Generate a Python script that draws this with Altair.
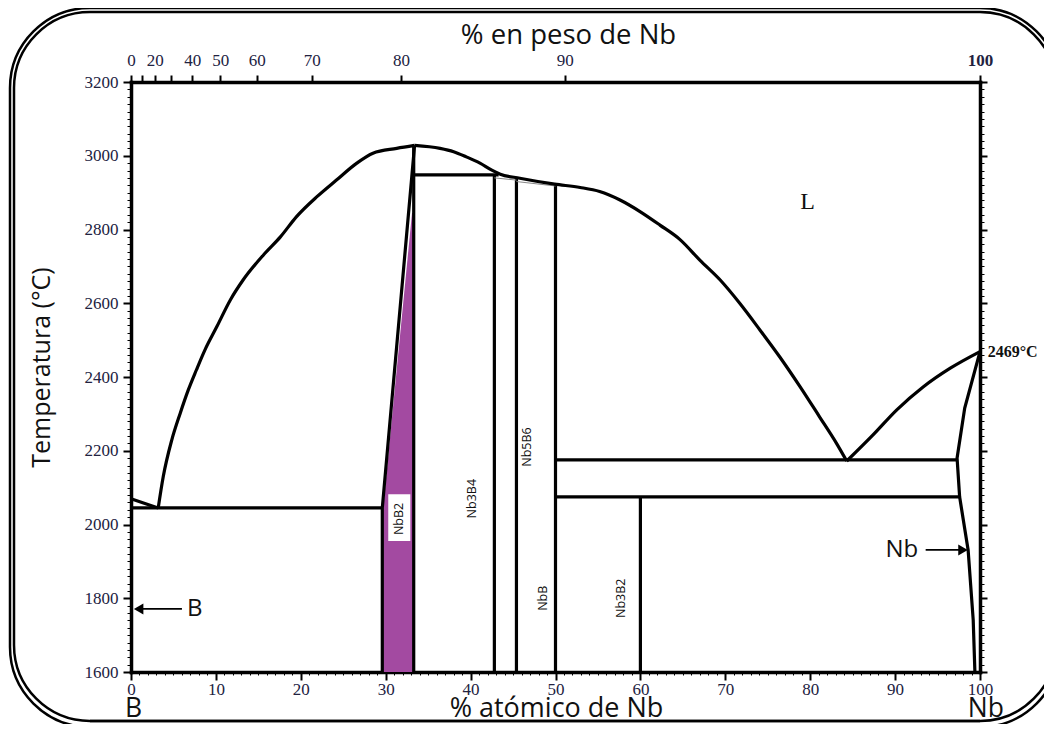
import altair as alt
import pandas as pd

# ---------------- values ----------------
# straight phase boundaries  (at.% Nb , temperature °C)
b_melt_x = [0.0, 3.2]
b_melt_t = [2070, 2045]
eut_b_x = [0.0, 29.6]
eut_b_t = [2045, 2045]
nbb2_left_x = [29.6, 29.6, 33.4]
nbb2_left_t = [1600, 2045, 3028]
nbb2_right_x = [33.3, 33.3]
nbb2_right_t = [1600, 3028]
perit_x = [33.3, 43.3]
perit_t = [2948, 2948]
nb3b4_x = [42.8, 42.8]
nb3b4_t = [1600, 2948]
nb5b6_x = [45.4, 45.4]
nb5b6_t = [1600, 2940]
nbb_x = [50.0, 50.0]
nbb_t = [1600, 2923]
eut_nb_x = [50.0, 97.3]
eut_nb_t = [2175, 2175]
iso2075_x = [50.0, 97.6]
iso2075_t = [2075, 2075]
nb3b2_x = [60.0, 60.0]
nb3b2_t = [1600, 2075]
nb_solidus_x = [100.0, 98.2, 97.3, 97.6, 98.6, 99.2, 99.4]
nb_solidus_t = [2469, 2316, 2180, 2075, 1931, 1741, 1600]

# thin grey lines under the liquidus
thin1_x = [42.8, 45.4]
thin1_t = [2940, 2934]
thin2_x = [45.4, 50.0]
thin2_t = [2930, 2918]

# liquidus curves
liq_left_x = [3.2, 3.8, 4.8, 5.8, 6.75, 7.7, 8.7, 10.1, 11.7, 13.2, 15.6, 17.6, 19.5,
              21.9, 24.2, 26.6, 28.5, 31.3, 33.4]
liq_left_t = [2044, 2130, 2229, 2302, 2365, 2419, 2473, 2536, 2609, 2663, 2731, 2780, 2835,
              2889, 2934, 2980, 3007, 3020, 3028]
liq_mid_x = [33.4, 36.4, 38.0, 39.5, 41.1, 42.5, 43.5, 45.8, 49.9, 52.9, 55.2, 57.6, 60.0,
             62.3, 64.7, 67.0, 69.4, 71.7, 74.1, 76.4, 78.8, 81.1, 83.1, 84.3]
liq_mid_t = [3028, 3020, 3011, 2997, 2980, 2961, 2950, 2939, 2923, 2914, 2903, 2880, 2848,
             2812, 2772, 2717, 2663, 2600, 2527, 2455, 2374, 2292, 2220, 2172]
liq_right_x = [84.3, 87.4, 90.2, 93.3, 96.5, 100.0]
liq_right_t = [2172, 2243, 2311, 2373, 2424, 2469]

# NbB2 single-phase field (purple)
nbb2_fill_t = [1600, 2045, 2845]
nbb2_fill_xl = [29.7, 29.7, 33.1]
nbb2_fill_xr = [33.3, 33.3, 33.3]

# phase labels (vertical)
phase_names = ["NbB2", "Nb3B4", "Nb5B6", "NbB", "Nb3B2"]
phase_x = [31.6, 40.2, 46.7, 48.5, 57.7]
phase_t = [2015, 2070, 2210, 1800, 1800]
nbb2_box_x = [30.3, 32.9]
nbb2_box_t = [1955, 2082]

# arrows  "B" and "Nb"
arrow_names = ["B", "Nb"]
arrow_text_x = [6.6, 90.8]
arrow_t = [1771, 1931]
arrow_from = [6.0, 93.6]
arrow_to = [0.9, 98.0]
arrow_head = ["triangle-left", "triangle-right"]

# top axis: weight % Nb ticks, placed at their at.% positions
top_pos = [0, 1.3, 2.8, 4.7, 7.2, 10.5, 14.8, 21.3, 31.8, 51.1, 100]
top_lab = ["0", "", "20", "", "40", "50", "60", "70", "80", "90", "100"]

# ---------------- frames ----------------
def seg_frame(segs):
    rows = []
    for name, xs_, ts_ in segs:
        for i, (a, b) in enumerate(zip(xs_, ts_)):
            rows.append({"seg": name, "i": i, "x": a, "t": b})
    return pd.DataFrame(rows)

straight_df = seg_frame([
    ("bmelt", b_melt_x, b_melt_t), ("eutb", eut_b_x, eut_b_t),
    ("nbb2l", nbb2_left_x, nbb2_left_t), ("nbb2r", nbb2_right_x, nbb2_right_t),
    ("perit", perit_x, perit_t), ("nb3b4", nb3b4_x, nb3b4_t),
    ("nb5b6", nb5b6_x, nb5b6_t), ("nbb", nbb_x, nbb_t),
    ("eutnb", eut_nb_x, eut_nb_t), ("iso", iso2075_x, iso2075_t),
    ("nb3b2", nb3b2_x, nb3b2_t), ("nbsol", nb_solidus_x, nb_solidus_t),
])
thin_df = seg_frame([("t1", thin1_x, thin1_t), ("t2", thin2_x, thin2_t)])
curve_df = seg_frame([
    ("liqL", liq_left_x, liq_left_t), ("liqM", liq_mid_x, liq_mid_t),
    ("liqR", liq_right_x, liq_right_t),
])
fill_df = pd.DataFrame({"t": nbb2_fill_t, "xl": nbb2_fill_xl, "xr": nbb2_fill_xr})
phase_df = pd.DataFrame({"name": phase_names, "x": phase_x, "t": phase_t})
box_df = pd.DataFrame({"x": [nbb2_box_x[0]], "x2": [nbb2_box_x[1]],
                       "t": [nbb2_box_t[0]], "t2": [nbb2_box_t[1]]})
arrow_df = pd.DataFrame({"name": arrow_names, "tx": arrow_text_x, "t": arrow_t,
                         "x1": arrow_from, "x2": arrow_to, "shape": arrow_head})
l_df = pd.DataFrame({"name": ["L"], "x": [79.7], "t": [2875]})
mp_df = pd.DataFrame({"name": ["2469°C"], "x": [100.9], "t": [2469]})
edge_df = pd.DataFrame({"name": ["B", "Nb"], "x": [0.3, 100.7]})
one = pd.DataFrame({"a": [0]})

# ---------------- scales & axes ----------------
XS = alt.Scale(domain=[0, 100], nice=False, zero=False)
YS = alt.Scale(domain=[1600, 3200], nice=False, zero=False)
SERIF = "Liberation Serif"
SANS = "Open Sans"
LABC = "#22223f"

top_expr = "''"
for p, l in reversed(list(zip(top_pos, top_lab))):
    top_expr = f"datum.value === {p} ? '{l}' : ({top_expr})"

common = dict(domainColor="black", domainWidth=3.5, domainCap="square", tickColor="black",
              labelFont=SERIF, labelFontSize=17, labelColor=LABC, labelOverlap=False,
              labelFlush=False, grid=False, titleColor="#111111", titleFont=SANS,
              titleFontWeight="normal")

x_bottom = alt.Axis(
    orient="bottom", values=list(range(0, 101)),
    labelExpr="datum.value % 10 === 0 ? datum.label : ''",
    tickSize={"condition": {"test": "datum.value % 10 === 0", "value": 8}, "value": 3},
    tickWidth={"condition": {"test": "datum.value % 10 === 0", "value": 2}, "value": 1},
    labelPadding=1, title="% atómico de Nb", titleFontSize=27,
    titleX=425, titleY=44.5, titleBaseline="alphabetic", titleAlign="center", **common)
y_left = alt.Axis(
    orient="left", values=list(range(1600, 3201, 20)),
    labelExpr="datum.value % 200 === 0 ? datum.label : ''", format="d",
    tickSize={"condition": {"test": "datum.value % 200 === 0", "value": 8}, "value": 4},
    tickWidth={"condition": {"test": "datum.value % 200 === 0", "value": 2}, "value": 1},
    labelPadding=5, title="Temperatura (°C)", titleFontSize=25, titleAngle=270,
    titleX=-90, titleY=285, titleBaseline="middle", titleAlign="center", **common)
x_top = alt.Axis(
    orient="top", values=top_pos, labelExpr=top_expr, tickSize=7, tickWidth=2,
    labelPadding=6, labelFontWeight={"condition": {"test": "datum.value === 100", "value": "bold"},
                                     "value": "normal"},
    title="% en peso de Nb", titleFontSize=27.5, titleX=437, titleY=-39,
    titleBaseline="alphabetic", titleAlign="center", **common)
y_right = alt.Axis(
    orient="right", values=list(range(1600, 3201, 20)), labels=False,
    tickSize={"condition": {"test": "datum.value % 200 === 0", "value": 7}, "value": 4},
    tickWidth={"condition": {"test": "datum.value % 200 === 0", "value": 2}, "value": 1},
    title=None, **{k: v for k, v in common.items() if not k.startswith("title")})

# ---------------- layers ----------------
border_outer = alt.Chart(one).mark_rect(filled=False, color="black", strokeWidth=2.5,
                                        cornerRadius=80).encode(
    x=alt.value(-121), x2=alt.value(929), y=alt.value(-74), y2=alt.value(645))
border_inner = alt.Chart(one).mark_rect(filled=False, color="black", strokeWidth=2.5,
                                        cornerRadius=76).encode(
    x=alt.value(-117), x2=alt.value(925), y=alt.value(-70), y2=alt.value(639))
border_bottom = alt.Chart(one).mark_rule(color="black", strokeWidth=2.5).encode(
    x=alt.value(-41), x2=alt.value(849), y=alt.value(639))

purple = alt.Chart(fill_df).mark_area(orient="horizontal", color="#A34AA1").encode(
    y=alt.Y("t:Q", scale=YS, axis=None),
    x=alt.X("xl:Q", scale=XS, axis=None), x2="xr:Q")

box = alt.Chart(box_df).mark_rect(color="white").encode(
    x=alt.X("x:Q", scale=XS, axis=None), x2="x2:Q",
    y=alt.Y("t:Q", scale=YS, axis=None), y2="t2:Q")

straight = alt.Chart(straight_df).mark_line(color="black", strokeWidth=3.2).encode(
    x=alt.X("x:Q", scale=XS, axis=x_bottom),
    y=alt.Y("t:Q", scale=YS, axis=y_left),
    detail="seg:N", order="i:Q")

thin = alt.Chart(thin_df).mark_line(color="#888888", strokeWidth=1).encode(
    x=alt.X("x:Q", scale=XS, axis=None), y=alt.Y("t:Q", scale=YS, axis=None),
    detail="seg:N", order="i:Q")

curves = alt.Chart(curve_df).mark_line(color="black", strokeWidth=3.2,
                                       interpolate="monotone").encode(
    x=alt.X("x:Q", scale=XS, axis=x_top),
    y=alt.Y("t:Q", scale=YS, axis=y_right),
    detail="seg:N", order="i:Q")

phases = alt.Chart(phase_df).mark_text(angle=270, font=SANS, fontSize=12.5,
                                       color="#111111", baseline="middle",
                                       align="center").encode(
    x=alt.X("x:Q", scale=XS, axis=None), y=alt.Y("t:Q", scale=YS, axis=None),
    text="name:N")

l_text = alt.Chart(l_df).mark_text(font=SERIF, fontSize=24, color="#111111",
                                   baseline="middle", align="center").encode(
    x=alt.X("x:Q", scale=XS, axis=None), y=alt.Y("t:Q", scale=YS, axis=None),
    text="name:N")

mp_text = alt.Chart(mp_df).mark_text(font=SERIF, fontSize=16, fontWeight="bold",
                                     color="#111111", baseline="middle",
                                     align="left").encode(
    x=alt.X("x:Q", scale=XS, axis=None), y=alt.Y("t:Q", scale=YS, axis=None),
    text="name:N")

shafts = alt.Chart(arrow_df).mark_rule(color="black", strokeWidth=1.8).encode(
    x=alt.X("x1:Q", scale=XS, axis=None), x2="x2:Q",
    y=alt.Y("t:Q", scale=YS, axis=None))
heads = alt.Chart(arrow_df).mark_point(filled=True, color="black", size=120,
                                       opacity=1).encode(
    x=alt.X("x2:Q", scale=XS, axis=None), y=alt.Y("t:Q", scale=YS, axis=None),
    shape=alt.Shape("shape:N", scale=None, legend=None))
arrow_text_b = alt.Chart(arrow_df).transform_filter("datum.name === 'B'").mark_text(
    font=SANS, fontSize=24, color="#111111", baseline="middle", align="left").encode(
    x=alt.X("tx:Q", scale=XS, axis=None), y=alt.Y("t:Q", scale=YS, axis=None),
    text="name:N")
arrow_text_nb = alt.Chart(arrow_df).transform_filter("datum.name === 'Nb'").mark_text(
    font=SANS, fontSize=24, color="#111111", baseline="middle", align="center").encode(
    x=alt.X("tx:Q", scale=XS, axis=None), y=alt.Y("t:Q", scale=YS, axis=None),
    text="name:N")

edge_text = alt.Chart(edge_df).mark_text(font=SANS, fontSize=26.5, color="#111111",
                                         baseline="alphabetic", align="center").encode(
    x=alt.X("x:Q", scale=XS, axis=None), y=alt.value(634.5), text="name:N")

chart = alt.layer(
    border_outer, border_inner, border_bottom,
    purple, box, straight, thin, curves,
    phases, l_text, mp_text, shafts, heads, arrow_text_b, arrow_text_nb, edge_text,
).resolve_axis(x="independent", y="independent").properties(
    width=849, height=590,
    autosize=alt.AutoSizeParams(type="none"),
    padding={"left": 123, "top": 74, "right": 64, "bottom": 52},
    background="white",
).configure_view(stroke=None)

chart.save("out.html", embed_options={"renderer": "svg", "actions": False})
